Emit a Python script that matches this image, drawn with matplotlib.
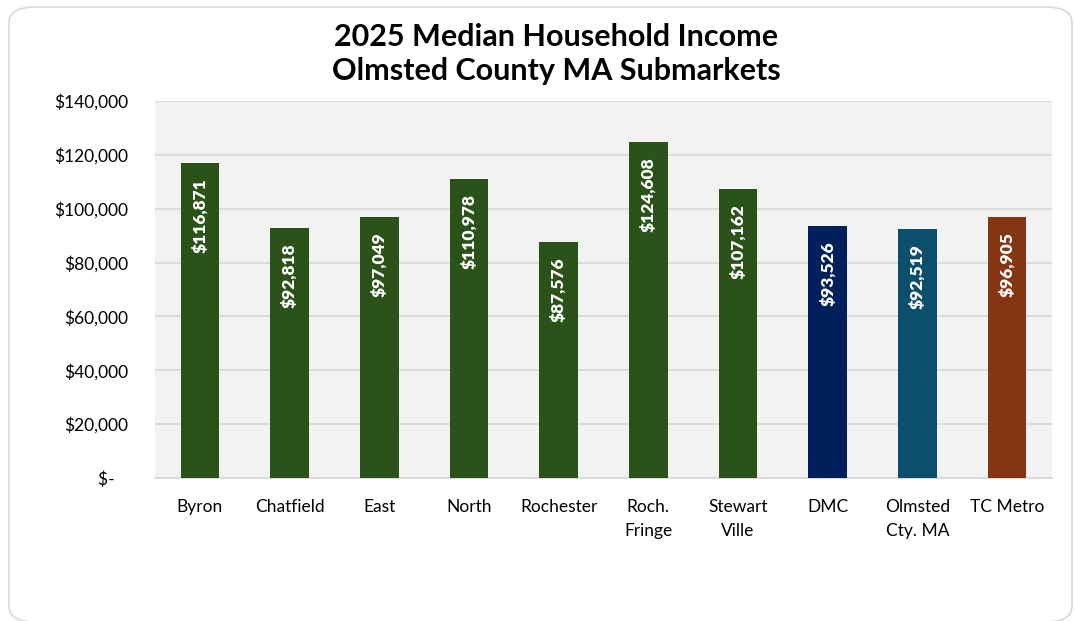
import matplotlib.pyplot as plt
from matplotlib.patches import FancyBboxPatch
from matplotlib.ticker import FuncFormatter

plt.rcParams['font.family'] = ['Lato', 'DejaVu Sans']

# Submarket names and 2025 median household income
areas = ["Byron", "Chatfield", "East", "North", "Rochester", "Roch.\nFringe",
         "Stewart\nVille", "DMC", "Olmsted\nCty. MA", "TC Metro"]
incomes = [116871, 92818, 97049, 110978, 87576, 124608, 107162, 93526, 92519, 96905]
bar_colors = ["#2a5219"] * 7 + ["#00205b", "#0b4f6c", "#843512"]

fig = plt.figure(figsize=(10.75, 6.21), dpi=100)

# rounded outline around the whole chart, kept behind the axes
frame = FancyBboxPatch((9 / 1075, 1 - 622 / 621), 1063 / 1075, 615 / 621,
                       boxstyle="round,pad=0,rounding_size=0.025",
                       transform=fig.transFigure, facecolor="white",
                       edgecolor="#d9d9d9", linewidth=1.2, zorder=-5)
fig.patches.append(frame)

ax = fig.add_axes([155 / 1075, 1 - 478 / 621, 897 / 1075, 377 / 621])
ax.set_zorder(2)
ax.set_facecolor("#f2f2f2")

x = range(len(areas))
ax.bar(x, incomes, width=0.43, color=bar_colors, zorder=3)

for i, v in enumerate(incomes):
    ax.annotate(f"${v:,}", xy=(i, v), xytext=(0, -11), textcoords="offset points",
                rotation=90, ha="center", va="top", color="white",
                fontsize=12.5, fontweight="heavy", zorder=4)

ax.set_xlim(-0.5, len(areas) - 0.5)
ax.set_ylim(0, 140000)
ax.set_yticks(range(0, 140001, 20000))
ax.yaxis.set_major_formatter(FuncFormatter(lambda v, p: "$-   " if v == 0 else f"${v:,.0f}"))
ax.grid(axis="y", color="#d9d9d9", linewidth=1.3, zorder=1)
ax.set_xticks(list(x))
ax.set_xticklabels(areas, fontsize=12.5, linespacing=1.6, va="top")
for s in ["top", "right", "left"]:
    ax.spines[s].set_visible(False)
ax.spines["bottom"].set_color("#d9d9d9")
ax.spines["bottom"].set_linewidth(1.3)
ax.tick_params(axis="both", length=0, labelsize=12.5)
ax.tick_params(axis="x", pad=15)
ax.tick_params(axis="y", pad=19)

fig.text(556 / 1075, 1 - 54 / 621, "2025 Median Household Income\nOlmsted County MA Submarkets",
         ha="center", va="center", fontsize=22, fontweight="bold", linespacing=1.25)

fig.savefig("out.png", dpi=100)
